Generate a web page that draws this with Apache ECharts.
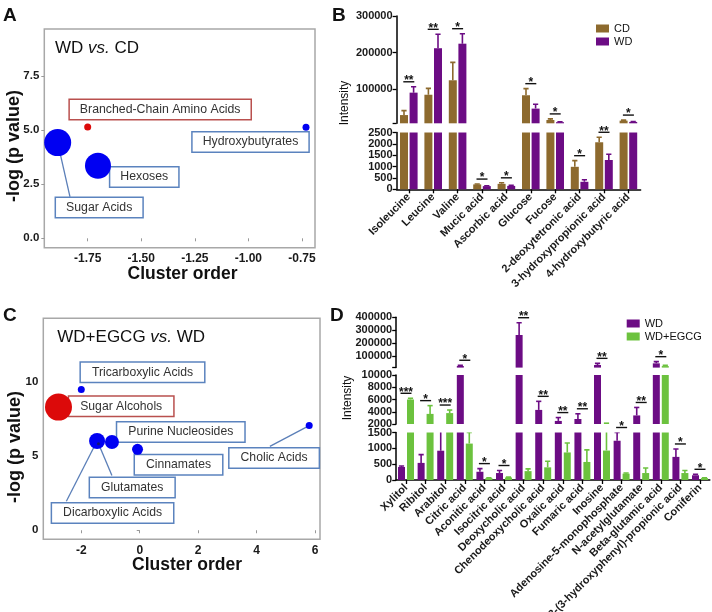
<!DOCTYPE html>
<html><head><meta charset="utf-8">
<script src="https://cdn.jsdelivr.net/npm/echarts@6/dist/echarts.min.js"></script>
<style>html,body{margin:0;padding:0;background:#fff}#c{width:712px;height:612px}</style>
</head><body><div id="c"></div>
<script>
// ---------- Panel A data ----------
const aNames = ['Branched-Chain Amino Acids', 'Hydroxybutyrates', 'Hexoses', 'Sugar Acids'];
const aX = [-1.75, -0.731, -1.702, -1.89];
const aY = [5.15, 5.14, 3.36, 4.43];
const aSize = [7, 7, 26, 27];
const aHighlight = [true, false, false, false];
const aXTicks = [-1.75, -1.5, -1.25, -1.0, -0.75];
const aYTicks = [0, 2.5, 5, 7.5];

// ---------- Panel B data ----------
const bCats = ['Isoleucine', 'Leucine', 'Valine', 'Mucic acid', 'Ascorbic acid', 'Glucose', 'Fucose',
  '2-deoxytetronic acid', '3-hydroxypropionic acid', '4-hydroxybutyric acid'];
const bCD = [29500, 85000, 124500, 215, 240, 83600, 16000, 990, 2070, 14300];
const bCDErr = [12000, 17500, 49000, 15, 45, 18000, 3000, 270, 220, 1500];
const bWD = [90700, 212000, 224400, 140, 150, 47100, 10000, 330, 1290, 10800];
const bWDErr = [16000, 38000, 27300, 15, 30, 12100, 800, 90, 250, 800];
const bSig = ['**', '**', '*', '*', '*', '*', '*', '*', '**', '*'];
const bTopTicks = [7000, 100000, 200000, 300000];
const bTopLabels = [100000, 200000, 300000];

// ---------- Panel C data ----------
const cNames = ['Tricarboxylic Acids', 'Sugar Alcohols', 'Purine Nucleosides', 'Cholic Acids',
  'Cinnamates', 'Dicarboxylic Acids', 'Glutamates'];
const cX = [-2.0, -2.78, -0.95, 5.8, -0.075, -1.46, -1.41];
const cY = [9.49, 8.31, 5.95, 7.06, 5.46, 6.02, 5.84];
const cSize = [7, 27, 14, 7, 11, 16, 3];
const cHighlight = [false, true, false, false, false, false, false];
const cXTicks = [-2, 0, 2, 4, 6];
const cYTicks = [0, 5, 10];

// ---------- Panel D data ----------
const dCats = ['Xylitol', 'Ribitol', 'Arabitol', 'Citric acid', 'Aconitic acid', 'Isocitric acid',
  'Deoxycholic acid', 'Chenodeoxycholic acid', 'Oxalic acid', 'Fumaric acid', 'Inosine',
  'Adenosine-5-monophosphate', 'N-acetylglutamate', 'Beta-glutamic acid',
  '3-(3-hydroxyphenyl)-propionic acid', 'Coniferin'];
const dWD = [410, 540, 925, 22700, 260, 220, 263000, 4300, 2500, 2820, 30000, 1240, 3400, 43000, 730, 150];
const dWDErr = [30, 260, 650, 5500, 100, 80, 95000, 1400, 550, 850, 13000, 260, 1300, 13000, 250, 30];
const dEG = [6000, 3650, 3780, 1150, 60, 80, 280, 400, 870, 570, 930, 200, 220, 22000, 220, 60];
const dEGErr = [200, 1350, 500, 350, 10, 10, 70, 190, 300, 380, 1200, 20, 160, 6000, 80, 10];
const dSig = ['***', '*', '***', '*', '*', '*', '**', '**', '**', '**', '**', '*', '**', '*', '*', '*'];
const dTopTicks = [10000, 100000, 200000, 300000, 400000];
const dTopLabels = [100000, 200000, 300000, 400000];

// ---------- styling / layout (not data) ----------
const FONT = '"Liberation Sans", Arial, Helvetica, sans-serif';
const PURPLE = '#6c0c84', BROWN = '#8d6a2e', GREEN = '#6cc23e';
const BLUE = '#0000f2', RED = '#dc0a0a', BOXBLUE = '#5b83be', BOXRED = '#b9504e', LEAD = '#5b7fb8';

const aLabelLayout = [
  {dx: 72.5, dy: -17.5}, {dx: -55.5, dy: 14.7}, {dx: 46.3, dy: 11.3},
  {dx: 41.5, dy: 65, lx: 12.3, ly: 54.3}
];
const cLabelLayout = [
  {dx: 61.2, dy: -17.3}, {dx: 62.7, dy: -0.9}, {dx: 68.8, dy: -10},
  {dx: -35.1, dy: 32.4, lx: -39.3, ly: 20.7}, {dx: 41, dy: 15.3},
  {dx: 15.5, dy: 72, lx: -30.7, ly: 60.3}, {dx: 33.7, dy: 43.9, lx: 13.4, ly: 31.7}
];

const chart = echarts.init(document.getElementById('c'), null, {renderer: 'canvas'});

const grids = [
  {left: 44.3, top: 29, width: 270.7, height: 218.7, show: true, borderColor: '#a8a8a8', borderWidth: 1.5, backgroundColor: '#fff'}, // A
  {left: 396.6, top: 16, width: 244, height: 107.3}, // B top
  {left: 396.6, top: 132.5, width: 244, height: 56.8}, // B bottom
  {left: 43.3, top: 318.3, width: 276.7, height: 221, show: true, borderColor: '#a8a8a8', borderWidth: 1.5, backgroundColor: '#fff'}, // C
  {left: 396.2, top: 317.3, width: 313.6, height: 50.3}, // D top
  {left: 396.2, top: 375, width: 313.6, height: 49}, // D mid
  {left: 396.2, top: 432.5, width: 313.6, height: 47.5} // D bottom
].map(g => Object.assign({outerBoundsMode: 'none', containLabel: false}, g));

const tickLabelBold = {fontFamily: FONT, fontWeight: 'bold', color: '#1a1a1a'};

function scatterXAxis(grid, min, max, ticks, fmt) {
  return {type: 'value', gridIndex: grid, min, max,
    axisLine: {show: false}, splitLine: {show: false},
    axisTick: {show: true, customValues: ticks, length: 3, lineStyle: {color: '#999'}},
    axisLabel: Object.assign({customValues: ticks, margin: 5, fontSize: 12, formatter: fmt}, tickLabelBold)};
}
function scatterYAxis(grid, min, max, ticks, fmt) {
  return {type: 'value', gridIndex: grid, min, max,
    axisLine: {show: false}, splitLine: {show: false},
    axisTick: {show: true, customValues: ticks, length: 3, lineStyle: {color: '#999'}},
    axisLabel: Object.assign({customValues: ticks, margin: 5, fontSize: 11.5, formatter: fmt}, tickLabelBold)};
}
function catAxis(grid, cats, showIt) {
  return {type: 'category', gridIndex: grid, data: cats, show: showIt,
    axisLine: {show: showIt, lineStyle: {color: '#000', width: 1.5}},
    axisTick: {show: showIt, alignWithLabel: true, length: 4, lineStyle: {color: '#000', width: 1.3}},
    axisLabel: Object.assign({show: showIt, interval: 0, rotate: 45, margin: 6, fontSize: 11}, tickLabelBold),
    splitLine: {show: false}};
}
function barYAxis(grid, min, max, opts) {
  const ax = {type: 'value', gridIndex: grid, min, max,
    axisLine: {show: true, lineStyle: {color: '#000', width: 1.5}},
    axisTick: {show: true, length: 4, lineStyle: {color: '#000', width: 1.3}},
    axisLabel: Object.assign({margin: 4, fontSize: 11, formatter: v => String(Math.round(v))}, tickLabelBold),
    splitLine: {show: false}};
  if (opts.interval) ax.interval = opts.interval;
  if (opts.ticks) { ax.axisTick.customValues = opts.ticks; ax.axisLabel.customValues = opts.labels; }
  return ax;
}

const xAxes = [
  scatterXAxis(0, -1.9525, -0.689, aXTicks, v => v.toFixed(2)),
  catAxis(1, bCats, false),
  catAxis(2, bCats, true),
  scatterXAxis(3, -3.30, 6.17, cXTicks, v => String(v)),
  catAxis(4, dCats, false),
  catAxis(5, dCats, false),
  catAxis(6, dCats, true)
];
const yAxes = [
  scatterYAxis(0, -0.435, 9.69, aYTicks, v => v.toFixed(1)),
  barYAxis(1, 7000, 300000, {ticks: bTopTicks, labels: bTopLabels}),
  barYAxis(2, 0, 2500, {interval: 500}),
  scatterYAxis(3, -0.61, 14.3, cYTicks, v => String(v)),
  barYAxis(4, 10000, 400000, {ticks: dTopTicks, labels: dTopLabels}),
  barYAxis(5, 2000, 10000, {interval: 2000}),
  barYAxis(6, 0, 1500, {interval: 500})
];

const series = [];

// ---------- scatter panels ----------
function addScatterPanel(idx, names, xs, ys, sizes, hl, layout, fontSize, pad) {
  const pts = xs.map((x, i) => [x, ys[i], i]);
  series.push({type: 'custom', xAxisIndex: idx, yAxisIndex: idx, z: 2, silent: true, clip: false,
    data: pts,
    renderItem: (params, api) => {
      const i = api.value(2); const L = layout[i];
      if (L.lx === undefined) return null;
      const p = api.coord([api.value(0), api.value(1)]);
      return {type: 'line', shape: {x1: p[0], y1: p[1], x2: p[0] + L.lx, y2: p[1] + L.ly},
        style: {stroke: LEAD, lineWidth: 1.3}};
    }});
  series.push({type: 'custom', xAxisIndex: idx, yAxisIndex: idx, z: 3, silent: true, clip: false,
    data: pts,
    renderItem: (params, api) => {
      const i = api.value(2); const L = layout[i];
      const p = api.coord([api.value(0), api.value(1)]);
      return {type: 'text', x: p[0] + L.dx, y: p[1] + L.dy,
        style: {text: names[i], font: fontSize + 'px ' + FONT, fill: '#333',
          align: 'center', verticalAlign: 'middle', backgroundColor: '#fff',
          borderColor: hl[i] ? BOXRED : BOXBLUE, borderWidth: 1.5, padding: pad}};
    }});
  series.push({type: 'scatter', xAxisIndex: idx, yAxisIndex: idx, z: 4, silent: true,
    data: pts,
    symbolSize: (v, p) => sizes[p.dataIndex],
    itemStyle: {opacity: 1, color: p => hl[p.dataIndex] ? RED : (sizes[p.dataIndex] < 4 ? '#16166a' : BLUE)}});
}
addScatterPanel(0, aNames, aX, aY, aSize, aHighlight, aLabelLayout, 12.3, [4, 10, 3, 10]);
addScatterPanel(3, cNames, cX, cY, cSize, cHighlight, cLabelLayout, 12.2, [4, 11, 3, 11]);

// ---------- bar panels ----------
function addBarPanel(gridIdxs, names, colors, vals, errs, sigs, barW, gapPct, gridMins) {
  const off = (barW + barW * gapPct / 100) / 2;
  gridIdxs.forEach((g, k) => {
    const segMin = gridMins[k];
    const isBottom = k === gridIdxs.length - 1;
    names.forEach((nm, s) => {
      series.push({type: 'bar', name: nm, xAxisIndex: g, yAxisIndex: g,
        data: vals[s].map(v => (isBottom || v > segMin) ? v : '-'),
        barWidth: barW, barGap: gapPct + '%', clip: true, silent: true,
        itemStyle: {color: colors[s]}, z: 2});
    });
    names.forEach((nm, s) => {
      const sign = s === 0 ? -1 : 1;
      const ed = [];
      vals[s].forEach((v, i) => { if (isBottom || v + errs[s][i] > segMin) ed.push([i, v, errs[s][i]]); });
      series.push({type: 'custom', xAxisIndex: g, yAxisIndex: g, clip: true, silent: true, z: 3,
        data: ed,
        renderItem: (params, api) => {
          const i = api.value(0), v = api.value(1), e = api.value(2);
          const p0 = api.coord([i, v]), p1 = api.coord([i, v + e]);
          const x = p0[0] + sign * off;
          return {type: 'group', children: [
            {type: 'line', shape: {x1: x, y1: p0[1], x2: x, y2: p1[1]}, style: {stroke: colors[s], lineWidth: 1.6}},
            {type: 'line', shape: {x1: x - 2.6, y1: p1[1], x2: x + 2.6, y2: p1[1]}, style: {stroke: colors[s], lineWidth: 1.6}}
          ]};
        }});
    });
    // significance markers, placed in the segment containing the highest error bar
    const sigData = [];
    sigs.forEach((txt, i) => {
      const top = Math.max(...vals.map((arr, s) => arr[i] + errs[s][i]));
      let seg = gridIdxs.length - 1;
      for (let j = 0; j < gridMins.length; j++) { if (top >= gridMins[j]) { seg = j; break; } }
      if (seg === k) sigData.push([i, top, txt]);
    });
    series.push({type: 'custom', xAxisIndex: g, yAxisIndex: g, clip: false, silent: true, z: 5,
      data: sigData.map(d => [d[0], d[1]]),
      renderItem: (params, api) => {
        const d = sigData[params.dataIndex];
        const p = api.coord([api.value(0), api.value(1)]);
        const y = Math.max(p[1], params.coordSys.y) - 5;
        return {type: 'group', children: [
          {type: 'line', shape: {x1: p[0] - 5.5, y1: y, x2: p[0] + 5.5, y2: y}, style: {stroke: '#111', lineWidth: 1.4}},
          {type: 'text', x: p[0], y: y - 1, style: {text: d[2], font: 'bold 12px ' + FONT, fill: '#111', align: 'center', verticalAlign: 'middle'}}
        ]};
      }});
  });
}
addBarPanel([1, 2], ['CD', 'WD'], [BROWN, PURPLE], [bCD, bWD], [bCDErr, bWDErr], bSig, 8, 20, [7000, 0]);
addBarPanel([4, 5, 6], ['WD', 'WD+EGCG'], [PURPLE, GREEN], [dWD, dEG], [dWDErr, dEGErr], dSig, 7, 28, [10000, 2000, 0]);

// ---------- text annotations ----------
const T = (text, x, y, font, extra) => ({type: 'text', x, y, silent: true,
  style: Object.assign({text, font, fill: '#111'}, extra || {})});
const rot = Math.PI / 2;
const graphic = [
  T('A', 3, 6, 'bold 19px ' + FONT),
  T('B', 332, 6, 'bold 19px ' + FONT),
  T('C', 3, 306, 'bold 19px ' + FONT),
  T('D', 330, 306, 'bold 19px ' + FONT),
  {type: 'text', x: 55, y: 48.5, silent: true, style: {text: 'WD {i|vs.} CD', font: '17px ' + FONT, fill: '#111',
    verticalAlign: 'middle', rich: {i: {fontStyle: 'italic', fontSize: 17, fontFamily: FONT}}}},
  {type: 'text', x: 57.3, y: 337.5, silent: true, style: {text: 'WD+EGCG {i|vs.} WD', font: '17px ' + FONT, fill: '#111',
    verticalAlign: 'middle', rich: {i: {fontStyle: 'italic', fontSize: 17, fontFamily: FONT}}}},
  {type: 'text', x: 14, y: 146, rotation: rot, silent: true, style: {text: '-log (p value)', font: 'bold 18px ' + FONT, fill: '#111', align: 'center', verticalAlign: 'middle'}},
  {type: 'text', x: 15, y: 447, rotation: rot, silent: true, style: {text: '-log (p value)', font: 'bold 18px ' + FONT, fill: '#111', align: 'center', verticalAlign: 'middle'}},
  T('Cluster order', 182.5, 274.5, 'bold 17.5px ' + FONT, {align: 'center', verticalAlign: 'middle'}),
  T('Cluster order', 187, 565, 'bold 17.5px ' + FONT, {align: 'center', verticalAlign: 'middle'}),
  {type: 'text', x: 345, y: 103, rotation: rot, silent: true, style: {text: 'Intensity', font: '12px ' + FONT, fill: '#111', align: 'center', verticalAlign: 'middle'}},
  {type: 'text', x: 347.5, y: 398, rotation: rot, silent: true, style: {text: 'Intensity', font: '12px ' + FONT, fill: '#111', align: 'center', verticalAlign: 'middle'}}
];

chart.setOption({
  animation: false,
  backgroundColor: '#fff',
  textStyle: {fontFamily: FONT},
  grid: grids,
  xAxis: xAxes,
  yAxis: yAxes,
  legend: [
    {data: ['CD', 'WD'], orient: 'vertical', left: 591, top: 17.5, itemWidth: 13, itemHeight: 8, itemGap: 1,
      icon: 'rect', selectedMode: false, textStyle: {fontSize: 11, lineHeight: 12, color: '#111', fontFamily: FONT}},
    {data: ['WD', 'WD+EGCG'], orient: 'vertical', left: 621.7, top: 312.5, itemWidth: 13, itemHeight: 8, itemGap: 1,
      icon: 'rect', selectedMode: false, textStyle: {fontSize: 11, lineHeight: 12, color: '#111', fontFamily: FONT}}
  ],
  graphic: graphic,
  series: series
});
</script></body></html>
